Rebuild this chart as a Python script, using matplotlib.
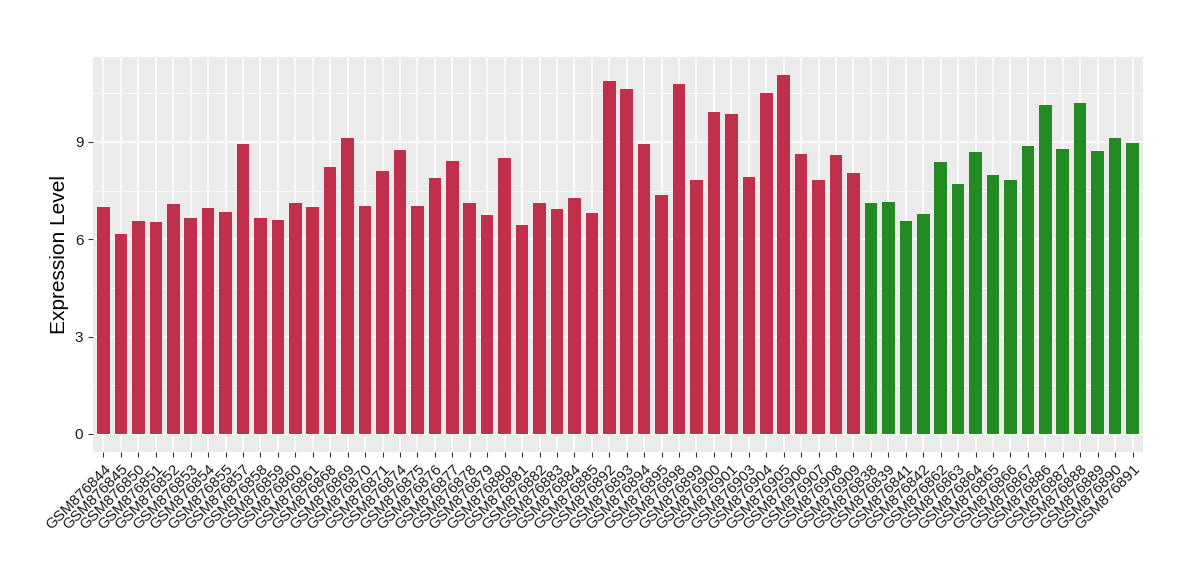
import numpy as np
import matplotlib
matplotlib.use('Agg')
import matplotlib.pyplot as plt

red_samples = ['GSM876844', 'GSM876845', 'GSM876850', 'GSM876851', 'GSM876852', 'GSM876853',
               'GSM876854', 'GSM876855', 'GSM876857', 'GSM876858', 'GSM876859', 'GSM876860',
               'GSM876861', 'GSM876868', 'GSM876869', 'GSM876870', 'GSM876871', 'GSM876874',
               'GSM876875', 'GSM876876', 'GSM876877', 'GSM876878', 'GSM876879', 'GSM876880',
               'GSM876881', 'GSM876882', 'GSM876883', 'GSM876884', 'GSM876885', 'GSM876892',
               'GSM876893', 'GSM876894', 'GSM876895', 'GSM876898', 'GSM876899', 'GSM876900',
               'GSM876901', 'GSM876903', 'GSM876904', 'GSM876905', 'GSM876906', 'GSM876907',
               'GSM876908', 'GSM876909']
red_values = [7.0, 6.17, 6.57, 6.54, 7.09, 6.66, 6.97, 6.84, 8.94, 6.66, 6.6, 7.12,
              7.0, 8.23, 9.12, 7.03, 8.11, 8.75, 7.03, 7.89, 8.41, 7.12, 6.75, 8.5,
              6.44, 7.12, 6.94, 7.27, 6.81, 10.88, 10.63, 8.94, 7.37, 10.79, 7.83, 9.93,
              9.86, 7.92, 10.51, 11.07, 8.63, 7.83, 8.6, 8.05]

green_samples = ['GSM876838', 'GSM876839', 'GSM876841', 'GSM876842', 'GSM876862', 'GSM876863',
                 'GSM876864', 'GSM876865', 'GSM876866', 'GSM876867', 'GSM876886', 'GSM876887',
                 'GSM876888', 'GSM876889', 'GSM876890', 'GSM876891']
green_values = [7.12, 7.15, 6.57, 6.78, 8.38, 7.71, 8.69, 7.98, 7.83, 8.88, 10.14, 8.79,
                10.2, 8.72, 9.12, 8.97]

y_ticks = [0, 3, 6, 9]

RED = '#C1304A'
GREEN = '#228B22'

plt.rcParams['font.family'] = ['Liberation Sans', 'DejaVu Sans']

samples = red_samples + green_samples
values = red_values + green_values
colors = [RED] * len(red_samples) + [GREEN] * len(green_samples)
x = np.arange(len(samples))

fig = plt.figure(figsize=(12, 5.8), dpi=100)
ax = fig.add_axes([0.0775, 0.221, 0.875, 0.681])
ax.set_facecolor('#EBEBEB')

# ggplot-like grid
for yv in y_ticks:
    ax.axhline(yv, color='white', lw=1.1, zorder=0)
for yv in [1.5, 4.5, 7.5, 10.5]:
    ax.axhline(yv, color='white', lw=0.5, zorder=0)
for xv in x:
    ax.axvline(xv, color='white', lw=1.1, zorder=0)

ax.bar(x, values, width=0.72, color=colors, zorder=2)

ax.set_xlim(-0.6, len(samples) - 0.4)
ax.set_ylim(-0.55, 11.62)
ax.set_yticks(y_ticks)
ax.set_xticks(x)
ax.set_xticklabels(samples, rotation=45, ha='right', rotation_mode='anchor', fontsize=11)
ax.tick_params(axis='both', color='#333333', length=3.5, width=0.8, labelcolor='#1a1a1a')
ax.tick_params(axis='y', labelsize=11)
ax.set_ylabel('Expression Level', fontsize=15)
for s in ax.spines.values():
    s.set_visible(False)

fig.savefig('out.png', dpi=100)
